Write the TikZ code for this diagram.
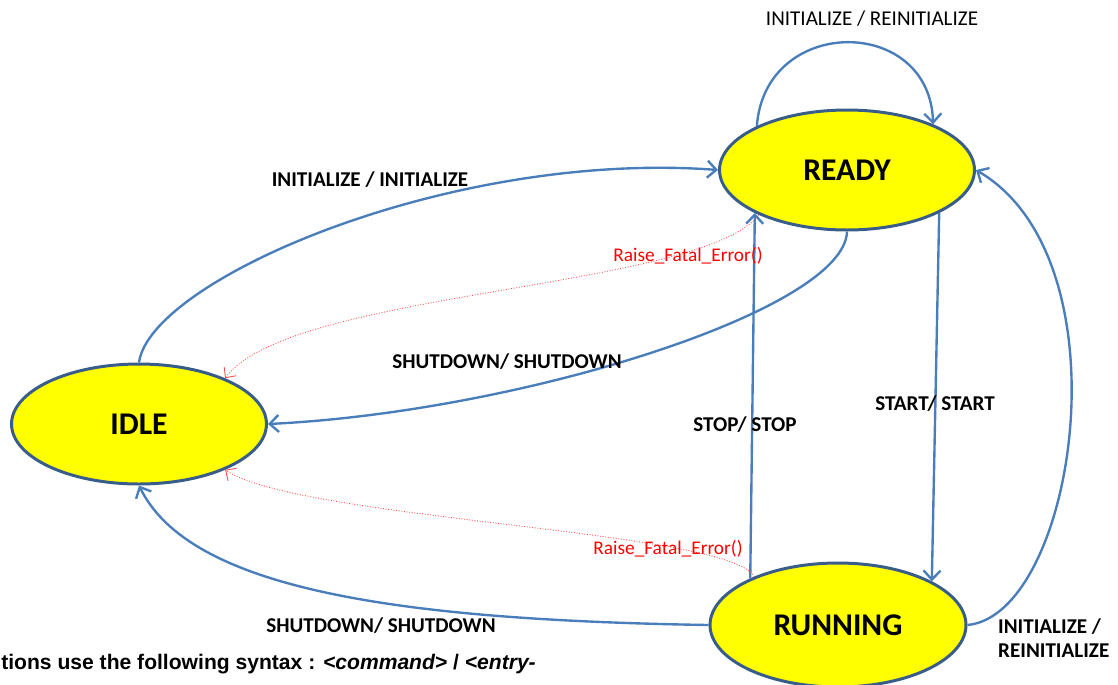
\documentclass[tikz,border=0pt]{standalone}
\usepackage{fontspec}
\setmainfont{Carlito}
\newfontfamily\notefont{Liberation Sans}
\usetikzlibrary{shapes.geometric,arrows.meta}

\definecolor{edgeblue}{RGB}{74,126,187}
\definecolor{rimblue}{RGB}{56,93,138}
\definecolor{statefill}{RGB}{255,255,0}
\definecolor{errred}{RGB}{255,0,0}

\tikzset{
  state/.style={ellipse, draw=rimblue, line width=1.7pt, fill=statefill,
    minimum width=5.1cm, minimum height=2.4cm, inner sep=0pt,
    font=\fontsize{18}{20}\selectfont\bfseries},
  trans/.style={draw=edgeblue, line width=1.35pt,
    -{Straight Barb[length=1.8mm,width=3.4mm]}},
  fatal/.style={draw=errred!70, densely dotted, line width=0.5pt,
    -{Straight Barb[length=1.6mm,width=3mm]}},
  lbl/.style={font=\fontsize{12}{14}\selectfont\bfseries},
  errlbl/.style={text=errred, font=\fontsize{11}{13}\selectfont},
}

\begin{document}
\begin{tikzpicture}[x=0.02cm, y=-0.02cm]
    \clip (0,0) rectangle (1118,684);

    % States
    \node[state] (ready) at (847,170) {READY};
    \node[state] (idle) at (139,424) {IDLE};
    \node[state, minimum width=5.12cm, minimum height=2.48cm] (running) at (838,625) {RUNNING};

    % Transitions
    \draw[trans] (idle.north) .. controls (150,280) and (450,150) .. (ready.west);
    \draw[trans] (ready.south) .. controls (845,310) and (520,412) .. (idle.east);
    \draw[trans] (ready.154) .. controls (765,15) and (930,15) .. (ready.28);
    \draw[trans] (running.152) -- (ready.205);
    \draw[trans] (ready.335) -- (running.25);
    \draw[trans] (running.east) .. controls (1075,615) and (1130,260) .. (ready.east);
    \draw[trans] (running.west) .. controls (400,620) and (190,590) .. (idle.south);

    % Fatal errors
    \draw[fatal] (ready.207) .. controls (700,290) and (290,290) .. (idle.28);
    \draw[fatal] (running.150) .. controls (730,530) and (300,520) .. (idle.332);

    % Labels
    \node[font=\fontsize{12}{14}\selectfont] (lselfinit) at (872,19) {INITIALIZE / REINITIALIZE};
    \node[lbl] (linit) at (370,180) {INITIALIZE / INITIALIZE};
    \node[lbl] (lshutready) at (507,362) {SHUTDOWN/ SHUTDOWN};
    \node[lbl] (lstop) at (745,425) {STOP/ STOP};
    \node[lbl] (lstart) at (935,404) {START/ START};
    \node[lbl] (lshutrun) at (381,626) {SHUTDOWN/ SHUTDOWN};
    \node[lbl, anchor=west, align=left] (lreinit) at (992,638) {INITIALIZE /\\REINITIALIZE};
    \node[errlbl] (lerrready) at (688,256) {Raise\_Fatal\_Error()};
    \node[errlbl] (lerrrun) at (668,549) {Raise\_Fatal\_Error()};

    % Note
    \node[anchor=west, inner sep=0pt, font=\notefont\bfseries\fontsize{12}{14}\selectfont] (note) at (1,664)
      {tions use the following syntax : \textit{<command>} / \textit{<entry-}};
\end{tikzpicture}
\end{document}
